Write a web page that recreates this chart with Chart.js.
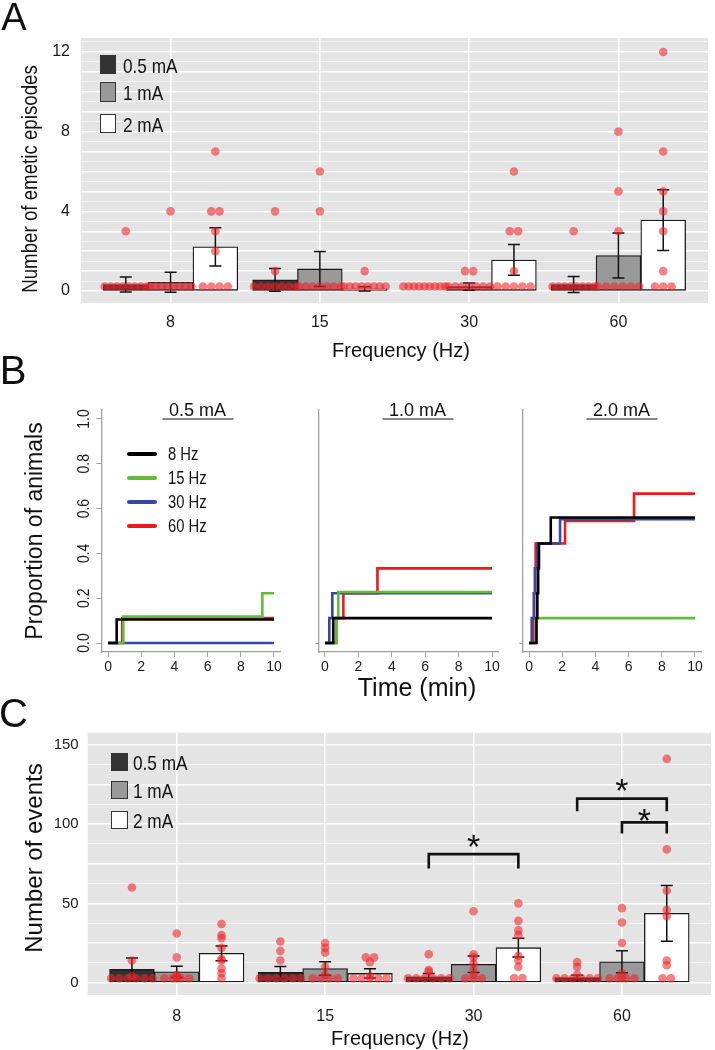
<!DOCTYPE html>
<html>
<head>
<meta charset="utf-8">
<script src="https://cdn.jsdelivr.net/npm/chart.js@4.4.1/dist/chart.umd.min.js"></script>
<style>
    body { margin: 0; background: #fff; }
    #fig { position: relative; width: 715px; height: 1050px; overflow: hidden; font-family: 'Liberation Sans', Arial, sans-serif; color: #111; }
    #fig canvas { position: absolute; }
    .t { position: absolute; white-space: nowrap; line-height: 1; }
    .box { position: absolute; border: 1px solid #333; box-sizing: border-box; }
    .key { position: absolute; height: 4px; width: 30px; border-radius: 2px; }
</style>
</head>
<body>
<div id="fig">
    <canvas id="chartA" width="715" height="370" style="left:0px;top:0px"></canvas>
    <canvas id="chartB1" width="290" height="300" style="left:0px;top:380px"></canvas>
    <canvas id="chartB2" width="210" height="300" style="left:300px;top:380px"></canvas>
    <canvas id="chartB3" width="210" height="300" style="left:505px;top:380px"></canvas>
    <canvas id="chartC" width="715" height="350" style="left:0px;top:700px"></canvas>
</div>

<script>
// ---- shared categories ----
const freqs = ["8", "15", "30", "60"];
const currents = ["0.5 mA", "1 mA", "2 mA"];
const barColors = ["#333333", "#999999", "#ffffff"];

// ---- panel A: emetic episodes (mean, SEM, individual animals) ----
const emesisMean05 = [0.33, 0.56, 0.0, 0.33];
const emesisMean1 = [0.44, 1.11, 0.22, 1.78];
const emesisMean2 = [2.22, 0.11, 1.56, 3.56];
const emesisSem05 = [0.38, 0.57, 0, 0.4];
const emesisSem1 = [0.5, 0.88, 0.18, 1.13];
const emesisSem2 = [0.96, 0.11, 0.77, 1.52];
const emesisDots05 = [[3, 0, 0, 0, 0, 0, 0, 0, 0], [4, 1, 0, 0, 0, 0, 0, 0, 0], [0, 0, 0, 0, 0, 0, 0, 0, 0], [3, 0, 0, 0, 0, 0, 0, 0, 0]];
const emesisDots1 = [[4, 0, 0, 0, 0, 0, 0, 0, 0], [6, 4, 0, 0, 0, 0, 0, 0, 0], [1, 1, 0, 0, 0, 0, 0, 0, 0], [8, 5, 3, 0, 0, 0, 0, 0, 0]];
const emesisDots2 = [[7, 4, 4, 3, 2, 0, 0, 0, 0], [1, 0, 0, 0, 0, 0, 0, 0, 0], [6, 3, 3, 1, 0, 0, 0, 0, 0], [12, 7, 5, 4, 3, 1, 0, 0, 0]];
const emesisTicks = [0, 4, 8, 12];

// ---- panel B: cumulative proportion of animals, [time (min), proportion] ----
const timeTicks = [0, 2, 4, 6, 8, 10];
const propTicks = [0, 0.2, 0.4, 0.6, 0.8, 1.0];
const hzLabels = ["8 Hz", "15 Hz", "30 Hz", "60 Hz"];
const hzColors = ["#000000", "#62bb3c", "#3349a3", "#f01818"];

const steps05_8 = [[0, 0], [0.52, 0.105], [10, 0.105]];
const steps05_15 = [[0, 0], [0.92, 0.118], [9.3, 0.222], [10, 0.222]];
const steps05_30 = [[0, 0], [10, 0]];
const steps05_60 = [[0, 0], [0.86, 0.111], [10, 0.111]];

const steps10_8 = [[0, 0], [0.5, 0.111], [10, 0.111]];
const steps10_15 = [[0, 0], [0.7, 0.111], [0.8, 0.228], [10, 0.228]];
const steps10_30 = [[0, 0], [0.26, 0.111], [0.44, 0.222], [10, 0.222]];
const steps10_60 = [[0, 0], [0.7, 0.111], [1.1, 0.222], [3.14, 0.333], [10, 0.333]];

const steps20_8 = [[0, 0], [0.45, 0.111], [0.5, 0.222], [0.55, 0.333], [0.6, 0.444], [1.31, 0.56], [10, 0.56]];
const steps20_15 = [[0, 0], [0.42, 0.111], [10, 0.111]];
const steps20_30 = [[0, 0], [0.16, 0.111], [0.3, 0.222], [0.38, 0.333], [0.5, 0.444], [1.87, 0.553], [10, 0.553]];
const steps20_60 = [[0, 0], [0.26, 0.111], [0.3, 0.222], [0.35, 0.333], [0.4, 0.444], [2.17, 0.545], [6.33, 0.667], [10, 0.667]];

// ---- panel C: number of events ----
const eventsMean05 = [8.4, 6.5, 3.8, 3.2];
const eventsMean1 = [6.9, 9.0, 11.6, 13.2];
const eventsMean2 = [18.5, 5.9, 22.1, 43.7];
const eventsSem05 = [7.2, 3.8, 2.1, 1.5];
const eventsSem1 = [3.5, 4.2, 5.2, 6.9];
const eventsSem2 = [4.6, 2.9, 5.9, 17.5];
const eventsDots05 = [[60, 14, 4, 0, 0, 0, 0, 0, 0], [26, 20, 14, 0, 0, 0, 0, 0, 0], [18, 8, 7, 0, 0, 0, 0, 0, 0], [13, 10, 5, 0, 0, 0, 0, 0, 0]];
const eventsDots1 = [[31, 16, 5, 4, 3, 0, 0, 0, 0], [25, 22, 19, 10, 5, 0, 0, 0, 0], [45, 18, 16, 12, 8, 5, 0, 0, 0], [47, 38, 25, 6, 3, 0, 0, 0, 0]];
const eventsDots2 = [[37, 30, 28, 22, 15, 14, 9, 6, 0], [16, 16, 13, 4, 0, 0, 0, 0, 0], [50, 39, 33, 30, 17, 14, 10, 3, 3], [141, 84, 58, 46, 42, 14, 11, 0, 0]];
const eventsTicks = [0, 50, 100, 150];
// significance: frequency index, from/to current index, bracket height, leg drop, star height
const sigBrackets = [
    { freq: 2, from: 0, to: 2, y: 81, drop: 9, star: 91 },
    { freq: 3, from: 0, to: 2, y: 116, drop: 8, star: 126 },
    { freq: 3, from: 1, to: 2, y: 101, drop: 7, star: 107 }
];

const SANS = "'Liberation Sans', Arial, sans-serif";
const fig = document.getElementById("fig");

// narrow = horizontally squeezed text, the original uses a condensed face
function addText(txt, x, y, size, opts = {}) {
    const el = document.createElement("div");
    el.className = "t";
    el.textContent = txt;
    el.style.fontSize = size + "px";
    el.style.left = x + "px";
    el.style.top = y + "px";
    let tf = opts.left ? "translate(0,-50%)" : "translate(-50%,-50%)";
    if (opts.rotate) tf += " rotate(-90deg)";
    if (opts.narrow) tf += " scaleX(" + opts.narrow + ")";
    el.style.transform = tf;
    if (opts.left) el.style.transformOrigin = "0 50%";
    if (opts.underline) {
        el.style.padding = "0 7px";
        el.style.borderBottom = "1.6px solid #111";
    }
    fig.appendChild(el);
    return el;
}

function addBox(x, y, w, h, color) {
    const el = document.createElement("div");
    el.className = "box";
    Object.assign(el.style, { left: x + "px", top: y + "px", width: w + "px", height: h + "px", background: color });
    fig.appendChild(el);
}

function addKey(x, y, color) {
    const el = document.createElement("div");
    el.className = "key";
    Object.assign(el.style, { left: x + "px", top: (y - 2) + "px", background: color });
    fig.appendChild(el);
}


// grey panel, error bars, animal dots and significance brackets
function barPanelPlugin(sems, dots, brackets) {
    return {
        id: "barPanel",
        beforeDraw(chart) {
            const a = chart.chartArea;
            const ctx = chart.ctx;
            ctx.save();
            ctx.fillStyle = "#e4e4e4";
            ctx.fillRect(a.left, a.top, a.right - a.left, a.bottom - a.top);
            ctx.restore();
        },
        afterDatasetsDraw(chart) {
            const ctx = chart.ctx;
            const y = chart.scales.y;
            ctx.save();

            ctx.strokeStyle = "#111";
            ctx.lineWidth = 1.5;
            chart.data.datasets.forEach((ds, d) => {
                chart.getDatasetMeta(d).data.forEach((bar, i) => {
                    const s = sems[d][i];
                    if (!s) return;
                    const m = ds.data[i].y;
                    const top = y.getPixelForValue(m + s);
                    const bot = y.getPixelForValue(m - s);
                    ctx.beginPath();
                    ctx.moveTo(bar.x, top); ctx.lineTo(bar.x, bot);
                    ctx.moveTo(bar.x - 6, top); ctx.lineTo(bar.x + 6, top);
                    ctx.moveTo(bar.x - 6, bot); ctx.lineTo(bar.x + 6, bot);
                    ctx.stroke();
                });
            });

            ctx.fillStyle = "rgba(238,34,40,0.58)";
            chart.data.datasets.forEach((ds, d) => {
                chart.getDatasetMeta(d).data.forEach((bar, i) => {
                    const counts = {};
                    dots[d][i].forEach(v => { counts[v] = (counts[v] || 0) + 1; });
                    Object.keys(counts).forEach(k => {
                        const v = Number(k);
                        const n = counts[k];
                        const gap = n > 1 ? Math.min(8.3, 42 / (n - 1)) : 0;
                        const py = y.getPixelForValue(v) - (v === 0 ? 4.5 : 0);
                        for (let j = 0; j < n; j++) {
                            ctx.beginPath();
                            ctx.arc(bar.x + (j - (n - 1) / 2) * gap, py, 4.3, 0, Math.PI * 2);
                            ctx.fill();
                        }
                    });
                });
            });

            (brackets || []).forEach(b => {
                const x1 = chart.getDatasetMeta(b.from).data[b.freq].x;
                const x2 = chart.getDatasetMeta(b.to).data[b.freq].x;
                const top = y.getPixelForValue(b.y);
                const leg = y.getPixelForValue(b.y - b.drop);
                ctx.strokeStyle = "#111";
                ctx.lineWidth = 2.6;
                ctx.beginPath();
                ctx.moveTo(x1, leg); ctx.lineTo(x1, top); ctx.lineTo(x2, top); ctx.lineTo(x2, leg);
                ctx.stroke();
                ctx.fillStyle = "#111";
                ctx.font = "34px " + SANS;
                ctx.textAlign = "center";
                ctx.textBaseline = "alphabetic";
                ctx.fillText("*", (x1 + x2) / 2, y.getPixelForValue(b.star) + 0.57 * 34);
            });

            ctx.restore();
        }
    };
}

function renderBarPanel(canvasId, means, sems, dots, geo, yCfg, brackets) {
    const gridVals = [];
    for (let v = 0; v <= yCfg.gridMax + 1e-9; v += yCfg.gridStep) gridVals.push(+v.toFixed(3));
    const isMajor = v => Math.abs(v / yCfg.majorStep - Math.round(v / yCfg.majorStep)) < 1e-6;

    return new Chart(document.getElementById(canvasId), {
        type: "bar",
        data: {
            datasets: currents.map((c, d) => ({
                label: c,
                data: means[d].map((v, i) => ({ x: i + 1, y: v })),
                backgroundColor: barColors[d],
                borderColor: "#1a1a1a",
                borderWidth: 1.3,
                borderSkipped: false,
                barThickness: 44.8
            }))
        },
        options: {
            responsive: false,
            animation: false,
            devicePixelRatio: 1,
            events: [],
            layout: { padding: { top: geo.top, right: geo.right, left: 0, bottom: 0 } },
            plugins: { legend: { display: false }, tooltip: { enabled: false } },
            scales: {
                x: {
                    type: "linear",
                    min: 0.4,
                    max: 4.6,
                    offset: false,
                    afterBuildTicks: s => { s.ticks = freqs.map((f, i) => ({ value: i + 1 })); },
                    afterFit: s => { s.height = geo.xHeight; },
                    ticks: {
                        callback: v => freqs[v - 1],
                        font: { family: SANS, size: 16 },
                        color: "#1a1a1a",
                        padding: geo.xPad,
                        autoSkip: false,
                        maxRotation: 0
                    },
                    grid: { color: "#ffffff", lineWidth: 1.6, drawTicks: false, offset: false },
                    border: { display: false }
                },
                y: {
                    min: yCfg.min,
                    max: yCfg.max,
                    afterBuildTicks: s => { s.ticks = gridVals.map(v => ({ value: v })); },
                    afterFit: s => { s.width = geo.left; },
                    ticks: {
                        callback: v => (yCfg.labels.includes(v) ? String(v) : ""),
                        font: { family: SANS, size: yCfg.fontSize },
                        color: "#1a1a1a",
                        padding: geo.yPad,
                        autoSkip: false
                    },
                    grid: {
                        drawTicks: false,
                        color: c => (isMajor(c.tick.value) ? "#ffffff" : "rgba(255,255,255,0.75)"),
                        lineWidth: c => (isMajor(c.tick.value) ? 1.5 : 0.7)
                    },
                    border: { display: false }
                }
            }
        },
        plugins: [barPanelPlugin(sems, dots, brackets)]
    });
}


// rotated tick labels on the first survival plot
const rotatedLabelsPlugin = {
    id: "rotatedLabels",
    afterDraw(chart) {
        if (!chart.options.plugins.rotatedLabels || !chart.options.plugins.rotatedLabels.show) return;
        const ctx = chart.ctx;
        const y = chart.scales.y;
        ctx.save();
        ctx.fillStyle = "#1a1a1a";
        ctx.font = "17px " + SANS;
        ctx.textAlign = "center";
        ctx.textBaseline = "middle";
        propTicks.forEach(v => {
            ctx.save();
            ctx.translate(84, y.getPixelForValue(v));
            ctx.rotate(-Math.PI / 2);
            ctx.scale(0.82, 1);
            ctx.fillText(v.toFixed(1), 0, 0);
            ctx.restore();
        });
        ctx.restore();
    }
};

function renderSurvival(canvasId, seriesList, geo, withLabels) {
    return new Chart(document.getElementById(canvasId), {
        type: "line",
        data: {
            datasets: seriesList.map((pts, k) => ({
                label: hzLabels[k],
                data: pts.map(p => ({ x: p[0], y: p[1] })),
                borderColor: hzColors[k],
                borderWidth: 2.6,
                stepped: "before",
                pointRadius: 0,
                fill: false
            }))
        },
        options: {
            responsive: false,
            animation: false,
            devicePixelRatio: 1,
            events: [],
            layout: { padding: { top: 30, right: geo.right, left: 0, bottom: 0 } },
            plugins: { legend: { display: false }, tooltip: { enabled: false }, rotatedLabels: { show: withLabels } },
            scales: {
                x: {
                    type: "linear",
                    min: -0.4,
                    max: 10.4,
                    afterBuildTicks: s => { s.ticks = timeTicks.map(v => ({ value: v })); },
                    afterFit: s => { s.height = 28; },
                    ticks: { font: { family: SANS, size: 14 }, color: "#1a1a1a", padding: 2, autoSkip: false, maxRotation: 0 },
                    grid: { drawOnChartArea: false, drawTicks: true, tickLength: 5, color: "#a0a0a0", lineWidth: 1 },
                    border: { display: true, color: "#a0a0a0", width: 1.3 }
                },
                y: {
                    min: -0.04,
                    max: 1.04,
                    afterBuildTicks: s => { s.ticks = (withLabels ? propTicks : [0]).map(v => ({ value: v })); },
                    afterFit: s => { s.width = geo.left; },
                    ticks: { display: false },
                    grid: { drawOnChartArea: false, drawTicks: true, tickLength: withLabels ? 5 : 3, color: "#a0a0a0", lineWidth: 1 },
                    border: { display: true, color: "#a0a0a0", width: 1.3 }
                }
            }
        },
        plugins: [rotatedLabelsPlugin]
    });
}


// ---- panel A ----
renderBarPanel("chartA",
    [emesisMean05, emesisMean1, emesisMean2],
    [emesisSem05, emesisSem1, emesisSem2],
    [emesisDots05, emesisDots1, emesisDots2],
    { top: 38, right: 7, left: 81, xHeight: 67, xPad: 10, yPad: 11 },
    { min: -0.6, max: 12.7, gridStep: 0.5, gridMax: 12.5, majorStep: 1, labels: emesisTicks, fontSize: 16 });

// ---- panel B ----
renderSurvival("chartB1", [steps05_8, steps05_15, steps05_30, steps05_60], { left: 101.4, right: 9.4 }, true);
renderSurvival("chartB2", [steps10_8, steps10_15, steps10_30, steps10_60], { left: 18.3, right: 11.3 }, false);
renderSurvival("chartB3", [steps20_8, steps20_15, steps20_30, steps20_60], { left: 17.4, right: 13.4 }, false);

// ---- panel C ----
renderBarPanel("chartC",
    [eventsMean05, eventsMean1, eventsMean2],
    [eventsSem05, eventsSem1, eventsSem2],
    [eventsDots05, eventsDots1, eventsDots2],
    { top: 32.7, right: 4, left: 87.7, xHeight: 55, xPad: 12, yPad: 9 },
    { min: -7.7, max: 157.5, gridStep: 12.5, gridMax: 150, majorStep: 25, labels: eventsTicks, fontSize: 15 },
    sigBrackets);


// ---- text, legends ----
addText("A", 14, 16.5, 38);
addText("Number of emetic episodes", 30, 179, 22, { narrow: 0.85, rotate: true });
addText("Frequency (Hz)", 401, 350, 20);
addBox(100, 55, 16, 19, barColors[0]);
addBox(100, 82, 16, 20, barColors[1]);
addBox(100, 114, 16, 19, barColors[2]);
currents.forEach((c, d) => addText(c, 123, [64.5, 92, 123.5][d], 21, { narrow: 0.82, left: true }));

addText("B", 13, 370, 40);
addText("Proportion of animals", 34, 531, 23, { rotate: true });
addText("0.5 mA", 197.5, 410, 18, { underline: true });
addText("1.0 mA", 417.5, 410, 18, { underline: true });
addText("2.0 mA", 621.5, 410, 18, { underline: true });
hzLabels.forEach((h, k) => {
    const yy = 454 + k * 24;
    addKey(127, yy, hzColors[k]);
    addText(h, 168, yy, 18, { narrow: 0.82, left: true });
});
addText("Time (min)", 417, 687, 25);

addText("C", 13.5, 712.5, 40);
addText("Number of events", 34, 858, 24, { rotate: true });
addText("Frequency (Hz)", 400, 1038, 20);
addBox(110.5, 752.7, 17, 18, barColors[0]);
addBox(110.5, 780.7, 17, 18, barColors[1]);
addBox(110.5, 810.7, 17, 18.6, barColors[2]);
currents.forEach((c, d) => addText(c, 133, [761.7, 789.7, 820][d], 21, { narrow: 0.82, left: true }));
</script>
</body>
</html>
